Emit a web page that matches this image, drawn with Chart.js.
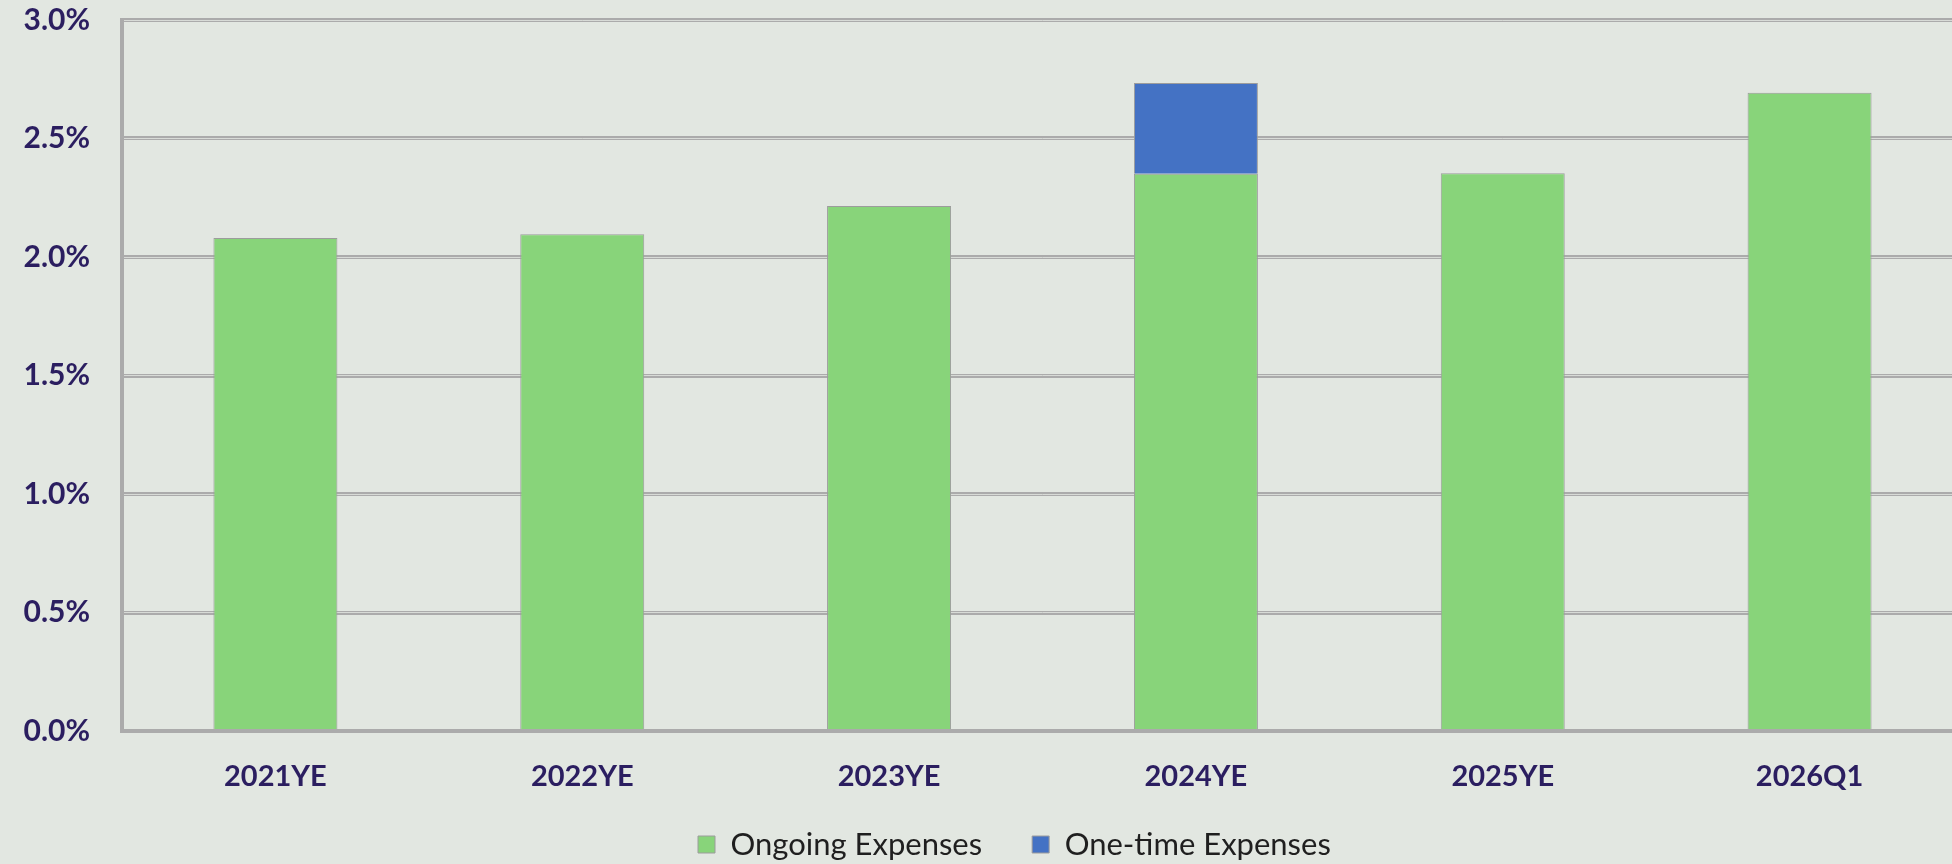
<!DOCTYPE html>
<html>
<head>
<meta charset="utf-8">
<script src="https://cdn.jsdelivr.net/npm/chart.js@4/dist/chart.umd.min.js"></script>
<style>
  html, body { margin: 0; padding: 0; overflow: hidden; background: #E2E7E1; }
  canvas { display: block; }
</style>
</head>
<body>
<canvas id="c" width="1963" height="864"></canvas>
<script>
const categories = ['2021YE', '2022YE', '2023YE', '2024YE', '2025YE', '2026Q1'];
const ongoingExpenses = [2.08, 2.096, 2.215, 2.351, 2.353, 2.693];
const oneTimeExpenses = [null, null, null, 0.383, null, null];
const yTicks = [0, 0.5, 1.0, 1.5, 2.0, 2.5, 3.0];

const navy = '#2B1E60';
const gridGray = '#ababab';
const gridLight = '#d8dbd7';

Chart.defaults.font.family = 'Lato, "Open Sans", sans-serif';

const legendPlacer = {
  id: 'legendPlacer',
  beforeDraw(chart) {
    const lg = chart.legend;
    if (!lg) return;
    const pad = lg.options.labels.padding;
    lg.left = 698 - pad;
    lg.right = chart.width;
    lg.top = 829 - pad;
    lg.bottom = chart.height;
  }
};

new Chart(document.getElementById('c'), {
  type: 'bar',
  data: {
    labels: categories,
    datasets: [
      {
        label: 'Ongoing Expenses',
        data: ongoingExpenses,
        backgroundColor: '#88D47A',
        borderColor: '#9c9c9c',
        borderWidth: 1,
        barPercentage: 0.404,
        categoryPercentage: 1.0
      },
      {
        label: 'One-time Expenses',
        data: oneTimeExpenses,
        backgroundColor: '#4472C4',
        borderColor: '#9c9c9c',
        borderWidth: 1,
        barPercentage: 0.404,
        categoryPercentage: 1.0
      }
    ]
  },
  options: {
    responsive: false,
    animation: false,
    devicePixelRatio: 1,
    layout: { padding: { top: 20, left: 0, right: 0, bottom: 0 } },
    plugins: {
      tooltip: { enabled: false },
      legend: {
        position: 'bottom',
        align: 'start',
        maxHeight: 60,
        labels: {
          boxWidth: 17,
          boxHeight: 17,
          padding: 50,
          color: '#1f1f1f',
          font: { size: 31, weight: 'normal' }
        }
      }
    },
    scales: {
      x: {
        stacked: true,
        grid: { display: false },
        border: { display: true, color: gridGray, width: 4 },
        ticks: {
          color: navy,
          padding: 20,
          font: { size: 29, weight: 'bold' }
        },
        afterFit(s) {
          s.paddingLeft = 0;
          s.paddingRight = 0;
          const lh = s.chart.legend ? s.chart.legend.height : 0;
          s.height = 864 - 731 - lh;
        }
      },
      y: {
        stacked: true,
        min: 0,
        max: 3,
        afterBuildTicks(s) { s.ticks = yTicks.map(v => ({ value: v })); },
        grid: { color: gridGray, lineWidth: 4, drawTicks: false },
        border: { display: true, color: gridGray, width: 4 },
        ticks: {
          color: navy,
          padding: 32,
          font: { size: 30, weight: 'bold' },
          callback: (v) => Number(v).toFixed(1) + '%'
        },
        afterFit(s) {
          s.width = 122;
          s.paddingTop = 0;
          s.paddingBottom = 0;
        }
      },
      y2: {
        position: 'right',
        min: 0,
        max: 3,
        afterBuildTicks(s) { s.ticks = yTicks.map(v => ({ value: v })); },
        grid: { color: gridLight, lineWidth: 1, drawTicks: false },
        border: { display: false },
        ticks: { display: false },
        afterFit(s) { s.width = 0; s.paddingTop = 0; s.paddingBottom = 0; }
      }
    }
  },
  plugins: [legendPlacer]
});
</script>
</body>
</html>
